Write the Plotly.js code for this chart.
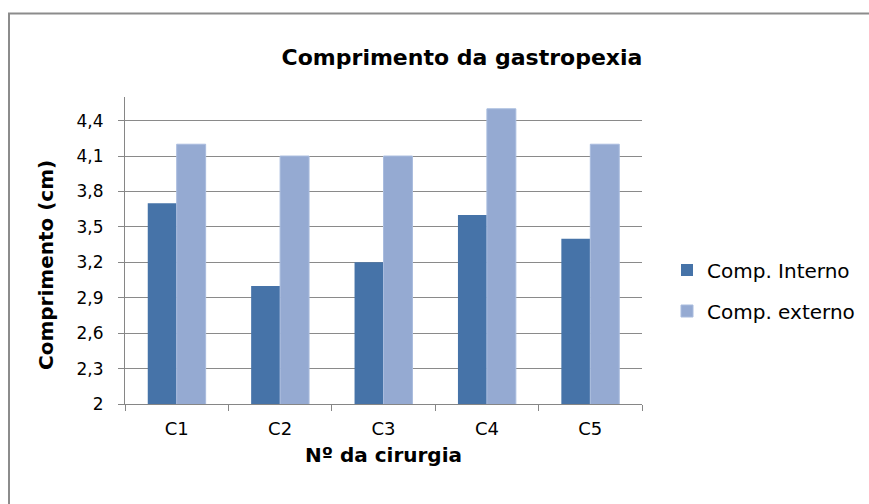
<!DOCTYPE html>
<html>
<head>
<meta charset="utf-8">
<script src="https://cdn.plot.ly/plotly-3.0.1.min.js"></script>
<style>
html,body{margin:0;padding:0;background:#fff;}
#chart{width:869px;height:504px;}
</style>
</head>
<body>
<div id="chart"></div>
<script>
const categories = ["C1", "C2", "C3", "C4", "C5"];
const interno = [3.7, 3.0, 3.2, 3.6, 3.4];
const externo = [4.2, 4.1, 4.1, 4.5, 4.2];
const seriesNames = ["Comp. Interno", "Comp. externo"];
const chartTitle = "Comprimento da gastropexia";
const xTitle = "Nº da cirurgia";
const yTitle = "Comprimento (cm)";

const FONT = "DejaVu Sans, Liberation Sans, Arial, sans-serif";

const traces = [
  {type: "bar", name: seriesNames[0], x: categories, y: interno,
   marker: {color: "#4673a8", line: {width: 0}}, legendgroup: "a"},
  {type: "bar", name: seriesNames[1], x: categories, y: externo,
   marker: {color: "#95aad2", line: {width: 1, color: "#a9bcde"}}, legendgroup: "b"}
];

const layout = {
  width: 869, height: 504,
  paper_bgcolor: "#ffffff", plot_bgcolor: "#ffffff",
  separators: ",.",
  font: {family: FONT, color: "#000"},
  margin: {l: 125, r: 227, t: 97, b: 100, autoexpand: false},
  barmode: "group", bargap: 0.44, bargroupgap: 0,
  showlegend: true,
  title: {text: "<b>" + chartTitle + "</b>", font: {family: FONT, size: 22, color: "#000"},
          x: 462/869, xref: "container", xanchor: "center",
          y: 1 - 57/504, yref: "container", yanchor: "middle"},
  xaxis: {
    type: "category",
    showline: true, linecolor: "#868686", linewidth: 1,
    ticks: "outside", tickson: "boundaries", ticklen: 6, tickcolor: "#868686", tickwidth: 1,
    ticklabelstandoff: 8,
    tickfont: {family: FONT, size: 18, color: "#000"},
    showgrid: false, zeroline: false,
    title: {text: "<b>" + xTitle + "</b>", font: {family: FONT, size: 20, color: "#000"}, standoff: 10}
  },
  yaxis: {
    range: [2, 4.6], tick0: 2, dtick: 0.3,
    showline: true, linecolor: "#868686", linewidth: 1,
    ticks: "outside", ticklen: 6, tickcolor: "#868686", tickwidth: 1,
    ticklabelstandoff: 11,
    tickfont: {family: FONT, size: 17, color: "#000"},
    showgrid: true, gridcolor: "#8a8a8a", gridwidth: 1, zeroline: false
  },
  legend: {
    x: (667 - 125) / 517, xanchor: "left", y: 0.5, yanchor: "top",
    traceorder: "grouped", tracegroupgap: 12,
    font: {family: FONT, size: 20, color: "#000"},
    itemwidth: 30, bgcolor: "rgba(0,0,0,0)"
  },
  annotations: [
    {text: "<b>" + yTitle + "</b>", xref: "paper", yref: "paper",
     x: (46 - 125) / 517, y: (404 - 265) / 307, textangle: -90, showarrow: false,
     xanchor: "center", yanchor: "middle",
     font: {family: FONT, size: 20, color: "#000"}}
  ],
  shapes: [
    {type: "path", xref: "paper", yref: "paper",
     path: "M " + ((920 - 125) / 517) + "," + ((404 - 13.5) / 307) +
           " L " + ((9 - 125) / 517) + "," + ((404 - 13.5) / 307) +
           " L " + ((9 - 125) / 517) + "," + ((404 - 560) / 307),
     line: {color: "#8c8c8c", width: 2}}
  ]
};

Plotly.newPlot("chart", traces, layout, {displayModeBar: false, staticPlot: true});
</script>
</body>
</html>
